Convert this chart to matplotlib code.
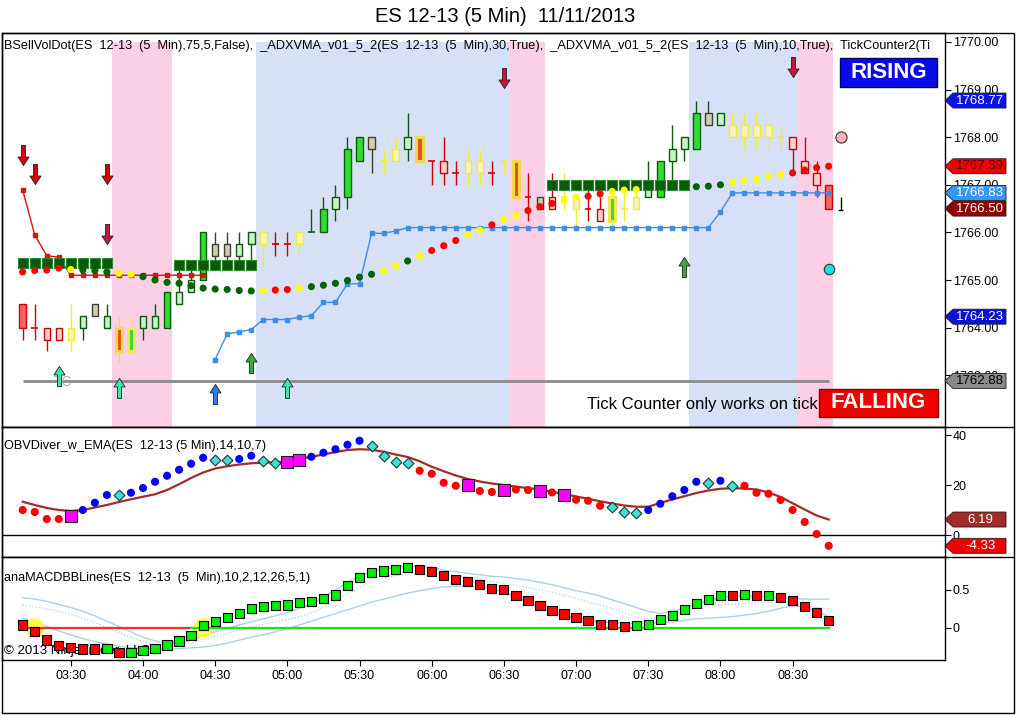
import matplotlib
matplotlib.use("Agg")
import matplotlib.pyplot as plt
from matplotlib.path import Path
from matplotlib.patches import Polygon, Rectangle
from matplotlib.transforms import IdentityTransform
from matplotlib.lines import Line2D

plt.rcParams['font.family'] = ['Liberation Sans', 'DejaVu Sans']

W, H = 1016, 715

# ---------------- data (5 min bars, 03:10 .. 08:45) ----------------
time_labels = ['03:30', '04:00', '04:30', '05:00', '05:30', '06:00',
               '06:30', '07:00', '07:30', '08:00', '08:30']
time_bars = [4, 10, 16, 22, 28, 34, 40, 46, 52, 58, 64]

opens = [1764.50, 1764.00, 1764.00, 1764.00, 1764.00, 1764.00, 1764.25, 1764.00, 1764.00, 1763.50,
         1764.00, 1764.00, 1764.00, 1764.50, 1764.75, 1765.00, 1765.50, 1765.50, 1765.50, 1765.75,
         1765.75, 1765.75, 1765.75, 1765.75, 1766.00, 1766.00, 1766.50, 1766.75, 1767.50, 1767.75,
         1767.50, 1767.50, 1767.75, 1768.00, 1767.50, 1767.50, 1767.25, 1767.25, 1767.25, 1767.25,
         1767.50, 1767.50, 1766.75, 1766.75, 1766.75, 1766.75, 1766.75, 1766.50, 1766.50, 1766.25,
         1766.50, 1766.50, 1766.75, 1766.75, 1767.50, 1767.75, 1767.75, 1768.25, 1768.25, 1768.25,
         1768.00, 1768.25, 1768.00, 1768.00, 1768.00, 1767.50, 1767.25, 1767.00]
highs = [1764.50, 1764.50, 1764.00, 1764.00, 1764.50, 1764.25, 1764.50, 1764.50, 1764.25, 1764.25,
         1764.25, 1764.50, 1764.75, 1765.25, 1765.25, 1766.00, 1766.00, 1766.00, 1766.00, 1766.00,
         1766.00, 1766.00, 1766.00, 1766.00, 1766.50, 1766.75, 1767.00, 1768.00, 1768.00, 1768.00,
         1767.75, 1768.00, 1768.50, 1768.00, 1767.50, 1768.00, 1767.50, 1767.75, 1767.75, 1767.50,
         1767.50, 1767.50, 1767.25, 1766.75, 1767.25, 1767.25, 1766.75, 1767.00, 1766.75, 1767.00,
         1767.00, 1767.00, 1767.50, 1767.50, 1768.25, 1768.00, 1768.75, 1768.75, 1768.50, 1768.50,
         1768.50, 1768.50, 1768.25, 1768.25, 1768.00, 1768.00, 1767.50, 1767.00]
lows = [1763.75, 1763.75, 1763.50, 1763.75, 1763.50, 1763.75, 1764.25, 1764.00, 1763.25, 1763.50,
        1763.75, 1764.00, 1764.00, 1764.50, 1764.75, 1765.00, 1765.25, 1765.25, 1765.25, 1765.25,
        1765.25, 1765.50, 1765.50, 1765.50, 1766.00, 1766.00, 1766.25, 1766.50, 1767.50, 1767.25,
        1767.25, 1767.50, 1767.50, 1767.50, 1767.00, 1767.00, 1767.00, 1767.00, 1767.00, 1767.00,
        1767.25, 1766.75, 1766.25, 1766.50, 1766.50, 1766.50, 1766.00, 1766.25, 1766.25, 1766.00,
        1766.25, 1766.50, 1766.75, 1766.75, 1767.00, 1767.50, 1767.75, 1768.25, 1768.25, 1768.00,
        1767.75, 1767.75, 1767.75, 1767.75, 1767.25, 1767.25, 1766.75, 1766.50]
closes = [1764.00, 1764.00, 1763.75, 1763.75, 1763.75, 1764.25, 1764.50, 1764.25, 1763.50, 1764.00,
          1764.25, 1764.25, 1764.75, 1764.75, 1765.00, 1766.00, 1765.75, 1765.75, 1765.75, 1766.00,
          1766.00, 1765.75, 1765.75, 1766.00, 1766.00, 1766.50, 1766.75, 1767.75, 1768.00, 1768.00,
          1767.50, 1767.75, 1768.00, 1767.50, 1767.50, 1767.25, 1767.25, 1767.50, 1767.50, 1767.25,
          1767.50, 1766.75, 1766.75, 1766.50, 1766.50, 1766.75, 1766.50, 1766.50, 1766.25, 1766.75,
          1766.50, 1766.75, 1767.00, 1767.50, 1767.75, 1768.00, 1768.50, 1768.50, 1768.50, 1768.00,
          1768.25, 1768.00, 1768.25, 1768.00, 1767.75, 1767.25, 1767.00, 1766.50]
# paint-bar colour code per bar
bar_codes = ("Rrrrygtgol" "ggGggGttgg" "yrrygGgGGt" "yygorrryyr"
             "yortryyrrl" "yygGggGtgy" "yyyyrrrR")

# _ADXVMA (10) dots
adx10 = [1765.17, 1765.20, 1765.21, 1765.25, 1765.22, 1765.21, 1765.20, 1765.17, 1765.14, 1765.12,
         1765.07, 1765.00, 1764.95, 1764.93, 1764.88, 1764.83, 1764.81, 1764.80, 1764.78, 1764.77,
         1764.78, 1764.79, 1764.80, 1764.83, 1764.86, 1764.89, 1764.93, 1764.99, 1765.06, 1765.12,
         1765.19, 1765.30, 1765.40, 1765.51, 1765.62, 1765.72, 1765.83, 1765.95, 1766.05, 1766.16,
         1766.27, 1766.36, 1766.46, 1766.54, 1766.61, 1766.68, 1766.74, 1766.76, 1766.81, 1766.86,
         1766.89, 1766.90, 1766.96, 1766.97, 1766.97, 1766.97, 1766.96, 1766.97, 1767.00, 1767.05,
         1767.09, 1767.12, 1767.17, 1767.21, 1767.25, 1767.31, 1767.36, 1767.39]
adx10_codes = "rrrrygggyyggggggggggyrryggggggyygyrrryyryyrrryyrryyygggggggyyyyyrrrr"

# BSellVolDot squares
vol_bars = [0, 1, 2, 3, 4, 5, 6, 7, 13, 14, 15, 16, 17, 18, 19,
            44, 45, 46, 47, 48, 49, 50, 51, 52, 53, 54, 55]
vol_vals = [1765.35] * 8 + [1765.32] * 7 + [1767.00] * 12

# red step line (bars 0-15) and blue step line (bars 16-67)
red_line_bars = list(range(0, 16))
red_line_vals = [1766.89, 1765.95, 1765.51, 1765.48, 1765.10, 1765.10, 1765.10, 1765.10,
                 1765.10, 1765.10, 1765.10, 1765.10, 1765.10, 1765.10, 1765.10, 1765.10]
blue_line_bars = list(range(16, 68))
blue_line_vals = ([1763.33, 1763.87, 1763.91, 1763.96, 1764.17, 1764.17, 1764.17, 1764.22,
                   1764.25, 1764.53, 1764.53, 1764.92, 1764.92, 1765.98, 1765.98, 1766.03]
                  + [1766.10] * 26 + [1766.43] + [1766.83] * 9)

# signal arrows
arrow_bars = [0, 1, 7, 7, 40, 64, 3, 8, 16, 19, 22, 55]
arrow_prices = [1767.63, 1767.23, 1767.23, 1765.97, 1769.24, 1769.47,
                1762.98, 1762.74, 1762.61, 1763.26, 1762.74, 1765.27]
arrow_dirs = ['down'] * 6 + ['up'] * 6
arrow_colors = ['#D80000', '#D80000', '#D80000', '#C4163C', '#C4163C', '#C4163C',
                '#3CE6A6', '#3CE6A6', '#2A7FE6', '#3AAA3A', '#3CE6A6', '#3AAA3A']

tick_counter_level = 1762.88

pink_zones = [(8, 12), (41, 43), (65, 67)]
blue_zones = [(20, 40), (56, 64)]

price_tags = [(1768.77, '#0A14E6', 'white'), (1767.39, '#F00000', '#5A0000'),
              (1766.83, '#3A96F0', 'white'), (1766.50, '#8C0000', 'white'),
              (1764.23, '#0A14D0', 'white'), (1762.88, '#8A8A8A', 'black')]

# OBV divergence panel
obv = [10.0, 9.2, 6.4, 6.4, 7.5, 10.0, 12.9, 16.0, 15.9, 16.9,
       18.8, 21.3, 23.7, 26.1, 28.5, 30.9, 29.9, 29.9, 30.4, 31.7,
       29.5, 28.7, 29.1, 29.9, 31.3, 32.9, 34.3, 36.1, 37.7, 35.6,
       31.7, 29.1, 28.7, 25.7, 24.5, 20.9, 19.7, 19.9, 17.6, 17.2,
       18.0, 18.2, 18.0, 17.8, 17.0, 16.0, 14.1, 13.7, 11.7, 11.1,
       9.2, 8.7, 10.0, 12.5, 15.5, 18.0, 21.3, 20.7, 21.7, 19.6,
       19.7, 16.9, 16.5, 14.0, 10.0, 5.2, 0.4, -4.33]
obv_codes = "rrrrmbbbcbbbbbbbccbbccmmbbbbbccccrrrrmrrmrrmrmrrrcccbbbbbcbcrrrrrrrr"
obv_ema = [13.3, 12.0, 10.8, 10.0, 9.6, 10.0, 11.0, 12.0, 13.2, 14.3,
           15.3, 16.3, 18.0, 20.3, 22.8, 25.0, 26.6, 27.5, 28.2, 28.7,
           28.9, 29.1, 29.4, 30.4, 31.3, 32.2, 33.2, 34.0, 34.3, 34.1,
           33.3, 32.2, 31.2, 29.5, 27.3, 25.5, 23.8, 22.4, 21.4, 20.6,
           20.0, 19.3, 18.8, 18.2, 17.3, 16.4, 15.4, 14.5, 13.5, 12.6,
           11.8, 11.3, 11.3, 12.8, 14.2, 15.5, 16.8, 17.8, 18.5, 18.7,
           18.6, 18.2, 17.0, 15.2, 12.7, 10.2, 7.8, 6.19]

# MACD BB lines panel
macd = [0.039, -0.048, -0.158, -0.232, -0.254, -0.276, -0.276, -0.268, -0.325, -0.325,
        -0.298, -0.272, -0.224, -0.171, -0.101, 0.031, 0.083, 0.136, 0.189, 0.259,
        0.281, 0.294, 0.303, 0.333, 0.346, 0.386, 0.434, 0.557, 0.662, 0.732,
        0.750, 0.772, 0.794, 0.772, 0.741, 0.689, 0.640, 0.610, 0.570, 0.518,
        0.509, 0.430, 0.360, 0.294, 0.228, 0.184, 0.136, 0.096, 0.044, 0.044,
        0.018, 0.031, 0.044, 0.110, 0.162, 0.241, 0.320, 0.373, 0.425, 0.425,
        0.439, 0.425, 0.425, 0.399, 0.360, 0.281, 0.202, 0.096]
macd_codes = "rrrrrrrgrggggggggggggggggggggggggrrrrrrrrrrrrrrrrrrggggggggrgrgrrrrr"
bb_upper = [0.40, 0.38, 0.35, 0.31, 0.27, 0.22, 0.16, 0.09, 0.02, -0.05,
            -0.12, -0.17, -0.20, -0.20, -0.16, -0.10, -0.05, 0.00, 0.04, 0.08,
            0.12, 0.16, 0.20, 0.26, 0.32, 0.40, 0.50, 0.60, 0.68, 0.74,
            0.78, 0.80, 0.81, 0.81, 0.80, 0.76, 0.74, 0.72, 0.70, 0.68,
            0.67, 0.65, 0.63, 0.60, 0.57, 0.53, 0.49, 0.46, 0.42, 0.37,
            0.32, 0.27, 0.22, 0.19, 0.22, 0.26, 0.31, 0.36, 0.40, 0.42,
            0.425, 0.42, 0.41, 0.40, 0.39, 0.38, 0.38, 0.38]
bb_mid = [0.30, 0.28, 0.25, 0.22, 0.18, 0.13, 0.07, 0.01, -0.06, -0.12,
          -0.18, -0.22, -0.24, -0.23, -0.20, -0.15, -0.11, -0.07, -0.03, 0.01,
          0.05, 0.08, 0.11, 0.15, 0.20, 0.27, 0.36, 0.45, 0.54, 0.61,
          0.66, 0.69, 0.71, 0.72, 0.72, 0.71, 0.69, 0.67, 0.64, 0.61,
          0.59, 0.56, 0.53, 0.50, 0.47, 0.43, 0.39, 0.34, 0.30, 0.26,
          0.20, 0.14, 0.12, 0.13, 0.15, 0.21, 0.27, 0.30, 0.31, 0.32,
          0.32, 0.33, 0.34, 0.345, 0.33, 0.30, 0.27, 0.25]
bb_lower = [0.13, 0.08, 0.02, -0.04, -0.09, -0.14, -0.18, -0.21, -0.24, -0.26,
            -0.27, -0.28, -0.28, -0.27, -0.26, -0.25, -0.23, -0.20, -0.16, -0.12,
            -0.09, -0.05, -0.01, 0.04, 0.09, 0.14, 0.19, 0.24, 0.29, 0.34,
            0.38, 0.42, 0.46, 0.49, 0.52, 0.54, 0.55, 0.55, 0.54, 0.52,
            0.47, 0.41, 0.35, 0.28, 0.22, 0.17, 0.13, 0.10, 0.08, 0.07,
            0.06, 0.06, 0.06, 0.07, 0.08, 0.10, 0.12, 0.13, 0.14, 0.15,
            0.17, 0.19, 0.22, 0.26, 0.29, 0.28, 0.22, 0.15]
macd_cross_bars = [1, 15]

# ---------------- styles ----------------
candle_style = {
    'R': ('#D40000', '#F06464'),
    'r': ('#CC0000', '#F8D2D2'),
    'g': ('#0B5A0B', '#CDEFCB'),
    'G': ('#0B5A0B', '#2EE02E'),
    't': ('#354530', '#D8C9B2'),
    'y': ('#EDED2A', '#F3F3BC'),
    'o': ('#F2DA46', '#E6521E'),
    'l': ('#EEEA50', '#3CD83C'),
}
adx_colors = {'r': '#FF0000', 'y': '#FFFF00', 'g': '#006400'}


def fig_box(x0, y0, x1, y1):
    return [x0 / W, 1 - y1 / H, (x1 - x0) / W, (y1 - y0) / H]


def arrow_marker(direction):
    v = [(-0.2, -1), (0.2, -1), (0.2, 0.15), (0.55, 0.15), (0, 1),
         (-0.55, 0.15), (-0.2, 0.15), (-0.2, -1)]
    if direction == 'down':
        v = [(x, -y) for x, y in v]
    return Path(v, closed=True)


fig = plt.figure(figsize=(W / 100, H / 100), dpi=100)
xlim = (-1.72, 76.67)

ax = fig.add_axes(fig_box(2, 33, 945, 427))
ax_obv = fig.add_axes(fig_box(2, 427, 945, 557))
ax_macd = fig.add_axes(fig_box(2, 557, 945, 660))

ax.set_ylim(1761.912, 1770.189)
ax_obv.set_ylim(-8.8, 43.2)
ax_macd.set_ylim(-0.421, 0.934)

for a in (ax, ax_obv, ax_macd):
    a.set_xlim(*xlim)
    a.yaxis.tick_right()
    a.tick_params(axis='y', direction='out', length=4, width=0.8, pad=1.5,
                  labelsize=9, colors='black')
    for s in a.spines.values():
        s.set_linewidth(1.0)
        s.set_color('black')
    a.set_facecolor('white')
for a in (ax, ax_obv):
    a.tick_params(axis='x', bottom=False, labelbottom=False)

# ---------------- main price panel ----------------
top_frac = (1770.0 - 1761.912) / (1770.189 - 1761.912)
for s, e in pink_zones:
    ax.axvspan(s - 0.6, e + 0.4, ymin=0, ymax=top_frac, color='#FBD0E6', lw=0, zorder=0)
for s, e in blue_zones:
    ax.axvspan(s - 0.6, e + 0.4, ymin=0, ymax=top_frac, color='#D7E0F6', lw=0, zorder=0)

ax.hlines(tick_counter_level, 0, 67, color='#8A8A8A', lw=2, zorder=1)
ax.text(2.55, tick_counter_level - 0.02, 'TC', color='#B0B0B0', fontsize=10,
        ha='left', va='center', zorder=1)

for i in range(len(opens)):
    edge, face = candle_style[bar_codes[i]]
    lo, hi = min(opens[i], closes[i]), max(opens[i], closes[i])
    ax.vlines(i, lows[i], highs[i], color=edge, lw=1, zorder=2)
    if hi - lo < 0.01:
        ax.hlines(lo, i - 0.28, i + 0.28, color=edge, lw=1.2, zorder=3)
    else:
        lw = 2.2 if bar_codes[i] in 'ol' else 1.0
        ax.add_patch(Rectangle((i - 0.27, lo), 0.54, hi - lo, fc=face, ec=edge,
                               lw=lw, zorder=3))

ax.plot(red_line_bars, red_line_vals, color='#DD1111', lw=1, marker='s', ms=3,
        mec='#DD1111', zorder=4)
ax.plot(blue_line_bars, blue_line_vals, color='#3C8EE6', lw=1, marker='s', ms=3,
        mec='#3C8EE6', zorder=4)

ax.scatter(vol_bars, vol_vals, marker='s', s=56, c='#0A5A0A', edgecolors='#2E8A2E',
           linewidths=0.8, zorder=4)
ax.scatter(range(len(adx10)), adx10, s=26, c=[adx_colors[c] for c in adx10_codes],
           edgecolors='none', zorder=5)

for b, p, d, c in zip(arrow_bars, arrow_prices, arrow_dirs, arrow_colors):
    ax.plot([b], [p], marker=arrow_marker(d), ms=14.5, mfc=c, mec='#202020',
            mew=0.6, ls='none', zorder=6)

ax.plot([68], [1768.0], marker='o', ms=8, mfc='#FFB4C0', mec='#333333', mew=0.8, zorder=6)
ax.plot([67], [1765.23], marker='o', ms=7.5, mfc='#10E0F0', mec='#333333', mew=0.8, zorder=6)
ax.vlines(68, 1766.48, 1766.75, color='black', lw=1, zorder=6)
ax.hlines(1766.48, 67.8, 68.2, color='black', lw=1, zorder=6)

ax.set_yticks([1763, 1764, 1765, 1766, 1767, 1768, 1769, 1770])
ax.set_yticklabels(['%.2f' % v for v in ax.get_yticks()])

# indicator list, cut off at the price axis as in the platform
ax.text(2 / 943, 1 - 13 / 394,
        'BSellVolDot(ES  12-13  (5  Min),75,5,False),  _ADXVMA_v01_5_2(ES  12-13  (5  Min),30,True),  '
        '_ADXVMA_v01_5_2(ES  12-13  (5  Min),10,True),  TickCounter2(Ti',
        transform=ax.transAxes, fontsize=9.2, ha='left', va='center', clip_on=True, zorder=7)
ax.text(585 / 943, 1 - 372 / 394, 'Tick Counter only works on tick charts',
        transform=ax.transAxes, fontsize=12, ha='left', va='center', clip_on=True, zorder=7)

# ---------------- OBV panel ----------------
ax_obv.axhline(0, color='black', lw=1, zorder=1)
ax_obv.plot(range(len(obv_ema)), obv_ema, color='#A52A2A', lw=1.6, zorder=2)
obv_style = {'r': ('o', '#FF0000', 'none', 34), 'b': ('o', '#0000FF', 'none', 34),
             'c': ('D', '#40E0D0', '#1A3A3A', 30), 'm': ('s', '#FF00FF', '#202020', 64)}
for code, (mk, fc, ec, sz) in obv_style.items():
    idx = [i for i, c in enumerate(obv_codes) if c == code]
    ax_obv.scatter(idx, [obv[i] for i in idx], marker=mk, s=sz, c=fc,
                   edgecolors=ec, linewidths=0.8, zorder=3)
ax_obv.set_yticks([0, 20, 40])
ax_obv.set_yticklabels(['0', '20', '40'])
ax_obv.text(2 / 943, 1 - 19 / 130, 'OBVDiver_w_EMA(ES  12-13 (5 Min),14,10,7)',
            transform=ax_obv.transAxes, fontsize=9.2, ha='left', va='center', zorder=5)

# ---------------- MACD panel ----------------
n = len(macd)
ax_macd.plot(range(n), bb_upper, color='#A6D2EE', lw=1, zorder=1)
ax_macd.plot(range(n), bb_lower, color='#A6D2EE', lw=1, zorder=1)
ax_macd.plot(range(n), bb_mid, color='#A6D2EE', lw=0.9, ls=':', zorder=1)
ax_macd.scatter(macd_cross_bars, [0, 0], s=200, c='#FFFF30', alpha=0.85,
                edgecolors='none', zorder=1.5)
ax_macd.plot([0, 14], [0, 0], color='#FF2A2A', lw=1.6, zorder=2)
ax_macd.plot([14, n - 1], [0, 0], color='#22E022', lw=1.6, zorder=2)
ax_macd.text(2 / 943, 1 - 94 / 103, '\u00a9 2013 NinjaTrader, LLC', transform=ax_macd.transAxes,
             fontsize=9.5, ha='left', va='center', zorder=2.5)
ax_macd.scatter(range(n), macd, marker='s', s=44,
                c=['#FF0000' if c == 'r' else '#00EE00' for c in macd_codes],
                edgecolors='black', linewidths=0.8, zorder=3)
ax_macd.set_yticks([0, 0.5])
ax_macd.set_yticklabels(['0', '0.5'])
ax_macd.set_xticks(time_bars)
ax_macd.set_xticklabels(time_labels)
ax_macd.tick_params(axis='x', direction='out', length=4, width=0.8, pad=3, labelsize=9)
ax_macd.text(2 / 943, 1 - 21 / 103, 'anaMACDBBLines(ES  12-13  (5  Min),10,2,12,26,5,1)',
             transform=ax_macd.transAxes, fontsize=9.2, ha='left', va='center', zorder=5)

# ---------------- frame, title, tags, boxes ----------------
fig.add_artist(Rectangle((2 / W, 1 - 713 / H), 1012 / W, 680 / H, transform=fig.transFigure,
                         fill=False, ec='black', lw=1))
for yp in (427, 557):
    fig.add_artist(Line2D([2 / W, 1014 / W], [1 - yp / H] * 2, transform=fig.transFigure,
                          color='black', lw=1))

fig.text(505 / W, 1 - 16 / H, 'ES 12-13 (5 Min)  11/11/2013', fontsize=14.5,
         ha='center', va='center')


def draw_tag(a, value, text, fc, tc):
    yd = a.transData.transform((0, value))[1]
    pts = [(945, yd), (953, yd + 7.5), (1006, yd + 7.5), (1006, yd - 7.5), (953, yd - 7.5)]
    fig.add_artist(Polygon(pts, closed=True, transform=IdentityTransform(), fc=fc,
                           ec='#202020', lw=0.6, zorder=10))
    fig.text(980, yd, text, transform=IdentityTransform(), fontsize=9.5, color=tc,
             ha='center', va='center', zorder=11)


for v, fc, tc in price_tags:
    draw_tag(ax, v, '%.2f' % v, fc, tc)
draw_tag(ax_obv, obv_ema[-1], '%.2f' % obv_ema[-1], '#A52A2A', 'white')
draw_tag(ax_obv, obv[-1], '%.2f' % obv[-1], '#F00000', 'white')


def label_box(x0, y0, x1, y1, text, fc, ec):
    fig.add_artist(Rectangle((x0 / W, 1 - y1 / H), (x1 - x0) / W, (y1 - y0) / H,
                             transform=fig.transFigure, fc=fc, ec=ec, lw=1, zorder=12))
    fig.text((x0 + x1) / 2 / W, 1 - (y0 + y1) / 2 / H, text, fontsize=16, fontweight='bold',
             color='white', ha='center', va='center', zorder=13)


label_box(840, 58, 937, 87, 'RISING', '#0A0AE8', '#00006A')
label_box(819, 389, 938, 417, 'FALLING', '#F20000', '#8A0000')

fig.savefig('out.png', dpi=100)
